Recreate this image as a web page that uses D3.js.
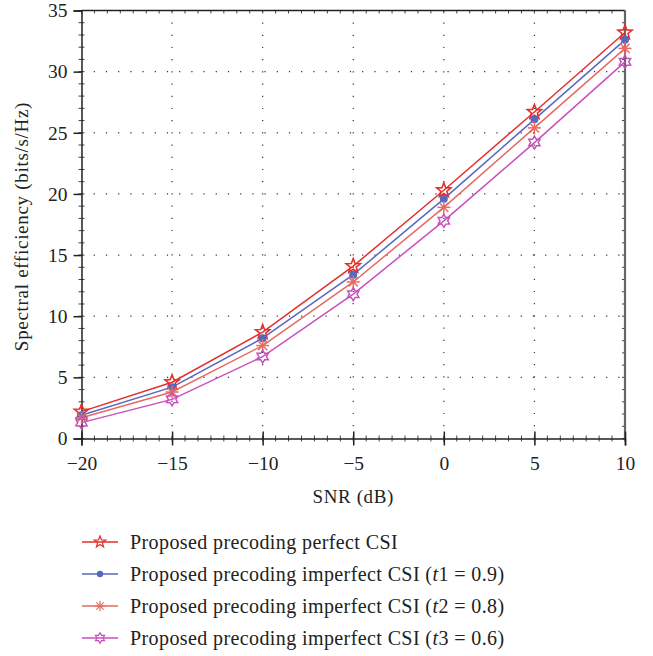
<!DOCTYPE html>
<html><head><meta charset="utf-8">
<script src="https://cdn.jsdelivr.net/npm/d3@7"></script>
<style>body{margin:0;background:#fff}svg{display:block}svg text{font-family:"Liberation Serif","Times New Roman",Times,serif !important}</style>
</head><body><svg id="c" width="653" height="656"></svg>
<script>
const snr = [-20, -15, -10, -5, 0, 5, 10];
const perfect = [2.2, 4.6, 8.7, 14.1, 20.3, 26.7, 33.2];
const t1 = [1.9, 4.2, 8.2, 13.4, 19.6, 26.1, 32.6];
const t2 = [1.7, 3.8, 7.6, 12.8, 18.9, 25.4, 31.9];
const t3 = [1.3, 3.2, 6.7, 11.8, 17.8, 24.2, 30.8];
const xTicks = [-20, -15, -10, -5, 0, 5, 10];
const yTicks = [0, 5, 10, 15, 20, 25, 30, 35];
const seriesNames = ["Proposed precoding perfect CSI", "Proposed precoding imperfect CSI (", "Proposed precoding imperfect CSI (", "Proposed precoding imperfect CSI ("];
const seriesParams = ["", "t|1 = 0.9", "t|2 = 0.8", "t|3 = 0.6"];

const svg = d3.select("#c");
const L = 81.5, R = 625, T = 10.5, B = 438.5;
const x = d3.scaleLinear().domain([-20, 10]).range([L, R]);
const y = d3.scaleLinear().domain([0, 35]).range([B, T]);

// dotted grid
const g = svg.append("g");
xTicks.slice(1, -1).forEach(v => g.append("line").attr("x1", x(v)).attr("x2", x(v)).attr("y1", B).attr("y2", T)
  .attr("stroke", "#333").attr("stroke-width", 1.2).attr("stroke-dasharray", "1.2,11"));
yTicks.slice(1, -1).forEach(v => g.append("line").attr("x1", L).attr("x2", R).attr("y1", y(v)).attr("y2", y(v))
  .attr("stroke", "#333").attr("stroke-width", 1.2).attr("stroke-dasharray", "1.2,11"));

// minor ticks
const xMinor = d3.range(-20, 10.001, 5 / 7);
const yMinor = d3.range(0, 35.001, 1);
const mt = svg.append("g").attr("stroke", "#444").attr("stroke-width", 1);
xMinor.forEach(v => {
  mt.append("line").attr("x1", x(v)).attr("x2", x(v)).attr("y1", B - 3).attr("y2", B + 3);
  mt.append("line").attr("x1", x(v)).attr("x2", x(v)).attr("y1", T).attr("y2", T + 3);
});
yMinor.forEach(v => {
  mt.append("line").attr("x1", L - 3).attr("x2", L + 3).attr("y1", y(v)).attr("y2", y(v));
  mt.append("line").attr("x1", R - 3).attr("x2", R).attr("y1", y(v)).attr("y2", y(v));
});

// frame
svg.append("line").attr("x1", L).attr("x2", R).attr("y1", T).attr("y2", T).attr("stroke", "#222").attr("stroke-width", 1.5);
svg.append("line").attr("x1", R).attr("x2", R).attr("y1", T).attr("y2", B).attr("stroke", "#666").attr("stroke-width", 2.2);

// axes
const xAxis = svg.append("g").attr("transform", `translate(0,${B})`)
  .call(d3.axisBottom(x).tickValues(xTicks).tickSize(7).tickPadding(11).tickFormat(d => d < 0 ? "\u2212" + Math.abs(d) : d));
xAxis.attr("font-size", 19.5);
xAxis.select(".domain").attr("stroke", "#222").attr("stroke-width", 1.5);
xAxis.selectAll(".tick line").attr("stroke", "#222").attr("stroke-width", 1.5).attr("y1", -7);
xAxis.selectAll("text").attr("fill", "#222");

const yAxis = svg.append("g").attr("transform", `translate(${L},0)`)
  .call(d3.axisLeft(y).tickValues(yTicks).tickSize(8).tickPadding(6));
yAxis.attr("font-size", 19.5);
yAxis.select(".domain").attr("stroke", "#222").attr("stroke-width", 1.5);
yAxis.selectAll(".tick line").attr("stroke", "#222").attr("stroke-width", 1.5);
yAxis.selectAll("text").attr("fill", "#222");

svg.append("text").attr("x", (L + R) / 2).attr("y", 503).attr("text-anchor", "middle").attr("font-size", 19).attr("letter-spacing", 0.6).attr("fill", "#222").text("SNR (dB)");
svg.append("text").attr("transform", `translate(28,${(T + B) / 2 + 2}) rotate(-90)`).attr("text-anchor", "middle").attr("font-size", 19).attr("letter-spacing", 0.7).attr("fill", "#222").text("Spectral efficiency (bits/s/Hz)");

// markers
function starPath(n, ro, ri) {
  const pts = [];
  for (let i = 0; i < 2 * n; i++) {
    const r = i % 2 ? ri : ro, a = -Math.PI / 2 + i * Math.PI / n;
    pts.push([r * Math.cos(a), r * Math.sin(a)]);
  }
  return "M" + pts.map(p => p.map(c => c.toFixed(2)).join(",")).join("L") + "Z";
}
function drawMarker(sel, type, color) {
  if (type === "star") sel.append("path").attr("d", starPath(5, 7.5, 3.2)).attr("fill", "none").attr("stroke", color).attr("stroke-width", 1.6);
  else if (type === "dot") sel.append("circle").attr("r", 4).attr("fill", color);
  else if (type === "ast") {
    for (let i = 0; i < 4; i++) {
      const a = i * Math.PI / 4;
      sel.append("line").attr("x1", -6.5 * Math.cos(a)).attr("y1", -6.5 * Math.sin(a)).attr("x2", 6.5 * Math.cos(a)).attr("y2", 6.5 * Math.sin(a))
        .attr("stroke", color).attr("stroke-width", 1.5);
    }
  } else if (type === "hex") sel.append("path").attr("d", starPath(6, 6.5, 3.8)).attr("fill", "none").attr("stroke", color).attr("stroke-width", 1.5);
}

const series = [
  { vals: perfect, color: "#e3302a", type: "star" },
  { vals: t1, color: "#5569c0", type: "dot" },
  { vals: t2, color: "#e66a62", type: "ast" },
  { vals: t3, color: "#c94fbf", type: "hex" }
];
const line = d3.line().x((d, i) => x(snr[i])).y(d => y(d));
series.forEach(s => {
  svg.append("path").attr("d", line(s.vals)).attr("fill", "none").attr("stroke", s.color).attr("stroke-width", 1.5);
});
series.forEach(s => {
  s.vals.forEach((v, i) => drawMarker(svg.append("g").attr("transform", `translate(${x(snr[i])},${y(v)})`), s.type, s.color));
});

// legend
const legY = [542, 574, 606, 638];
series.forEach((s, i) => {
  const gy = legY[i];
  svg.append("line").attr("x1", 82).attr("x2", 118).attr("y1", gy).attr("y2", gy).attr("stroke", s.color).attr("stroke-width", 1.5);
  const mg = svg.append("g").attr("transform", `translate(100,${gy}) scale(0.8)`);
  drawMarker(mg, s.type, s.color);
  const t = svg.append("text").attr("x", 130).attr("y", gy + 6.5).attr("font-size", 20).attr("letter-spacing", 0.4).attr("fill", "#222");
  t.append("tspan").text(seriesNames[i]);
  if (seriesParams[i]) {
    const [v, rest] = seriesParams[i].split("|");
    t.append("tspan").attr("font-style", "italic").text(v);
    t.append("tspan").text(rest + ")");
  }
});
</script></body></html>
